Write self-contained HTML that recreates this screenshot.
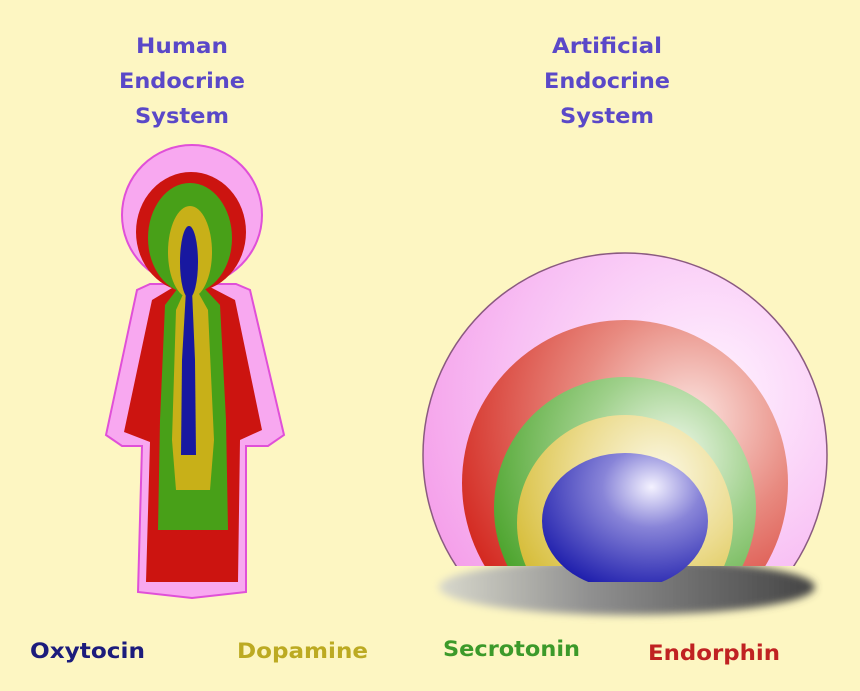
<!DOCTYPE html>
<html><head><style>
html,body{margin:0;padding:0}
body{width:860px;height:687px;background:#fdf6c2;overflow:hidden;font-family:"DejaVu Sans","Liberation Sans",sans-serif}
</style></head><body>
<svg width="860" height="687" viewBox="0 0 860 687" xmlns="http://www.w3.org/2000/svg">
<defs>
<radialGradient id="pk" cx="0.7" cy="0.35" r="0.8"><stop offset="0" stop-color="#fff4ff"/><stop offset="0.6" stop-color="#f8c0f4"/><stop offset="1" stop-color="#f49ae8"/></radialGradient>
<radialGradient id="rd" cx="0.7" cy="0.3" r="0.85"><stop offset="0" stop-color="#fbe4e0"/><stop offset="0.4" stop-color="#e88a80"/><stop offset="1" stop-color="#d01810"/></radialGradient>
<radialGradient id="gr" cx="0.68" cy="0.3" r="0.85"><stop offset="0" stop-color="#f0f8ec"/><stop offset="0.4" stop-color="#9ed08a"/><stop offset="1" stop-color="#3a9a18"/></radialGradient>
<radialGradient id="yl" cx="0.66" cy="0.28" r="0.85"><stop offset="0" stop-color="#fbf8e4"/><stop offset="0.45" stop-color="#ecdc90"/><stop offset="1" stop-color="#d0b420"/></radialGradient>
<radialGradient id="bl" cx="0.66" cy="0.25" r="0.85"><stop offset="0" stop-color="#f4f2ff"/><stop offset="0.35" stop-color="#8884d8"/><stop offset="1" stop-color="#1414a8"/></radialGradient>
<linearGradient id="sh" x1="0" x2="1" y1="0" y2="0"><stop offset="0" stop-color="#d8d8cc"/><stop offset="0.4" stop-color="#909090"/><stop offset="1" stop-color="#444"/></linearGradient>
<filter id="blur" x="-10%" y="-50%" width="120%" height="200%"><feGaussianBlur stdDeviation="4"/></filter>
<clipPath id="cut"><rect x="0" y="0" width="860" height="566"/></clipPath>
<clipPath id="cut2"><rect x="0" y="0" width="860" height="582"/></clipPath>
</defs>

<g font-weight="bold" font-size="21" fill="#5a48c8" text-anchor="middle">
<text x="182" y="53" textLength="92" lengthAdjust="spacingAndGlyphs">Human</text><text x="182" y="88" textLength="126" lengthAdjust="spacingAndGlyphs">Endocrine</text><text x="182" y="123" textLength="94" lengthAdjust="spacingAndGlyphs">System</text>
<text x="607" y="53" textLength="110" lengthAdjust="spacingAndGlyphs">Artificial</text><text x="607" y="88" textLength="126" lengthAdjust="spacingAndGlyphs">Endocrine</text><text x="607" y="123" textLength="94" lengthAdjust="spacingAndGlyphs">System</text>
</g>

<!-- human figure -->
<g stroke="#e050d8" stroke-width="2" fill="#f8a8f0">
<circle cx="192" cy="215" r="70"/>
<path d="M150,284 L137,290 L106,435 L122,446 L142,446 L138,592 L192,598 L246,592 L246,446 L268,446 L284,435 L250,290 L236,284 Z"/>
</g>
<path d="M155,285 L170,285 L192,275 L214,285 L230,285 L248,290 Z" fill="#f8a8f0"/>
<g fill="#cc1410">
<ellipse cx="191" cy="232" rx="55" ry="60"/>
<path d="M172,288 L152,300 L124,432 L150,442 L146,582 L238,582 L240,440 L262,430 L235,300 L212,288 L192,282 Z"/>
</g>
<g fill="#48a018">
<ellipse cx="190" cy="238" rx="42" ry="55"/>
<path d="M178,288 L165,305 L160,420 L158,530 L228,530 L226,420 L220,305 L204,288 Z"/>
</g>
<g fill="#c8b018">
<ellipse cx="190" cy="252" rx="22" ry="46"/>
<path d="M184,292 L176,310 L172,440 L176,490 L210,490 L214,440 L208,310 L198,292 Z"/>
</g>
<g fill="#1818a0">
<ellipse cx="189" cy="262" rx="9" ry="36"/>
<path d="M186,290 L182,360 L181,455 L196,455 L195,360 L192,290 Z"/>
</g>

<!-- artificial -->
<ellipse cx="627" cy="587" rx="188" ry="28" fill="url(#sh)" filter="url(#blur)"/>
<g clip-path="url(#cut)">
<circle cx="625" cy="455" r="202" fill="url(#pk)" stroke="#8a5a80" stroke-width="1.5"/>
<circle cx="625" cy="483" r="163" fill="url(#rd)"/>
<circle cx="625" cy="508" r="131" fill="url(#gr)"/>
<circle cx="625" cy="523" r="108" fill="url(#yl)"/>
</g>
<g clip-path="url(#cut2)">
<ellipse cx="625" cy="521" rx="83" ry="68" fill="url(#bl)"/>
</g>

<g font-weight="bold" font-size="21">
<text x="30" y="658" fill="#1c1c7c" textLength="115" lengthAdjust="spacingAndGlyphs">Oxytocin</text>
<text x="237" y="658" fill="#bcaa22" textLength="131" lengthAdjust="spacingAndGlyphs">Dopamine</text>
<text x="443" y="656" fill="#3c9a2a" textLength="137" lengthAdjust="spacingAndGlyphs">Secrotonin</text>
<text x="648" y="660" fill="#c02222" textLength="132" lengthAdjust="spacingAndGlyphs">Endorphin</text>
</g>
</svg>
</body></html>
